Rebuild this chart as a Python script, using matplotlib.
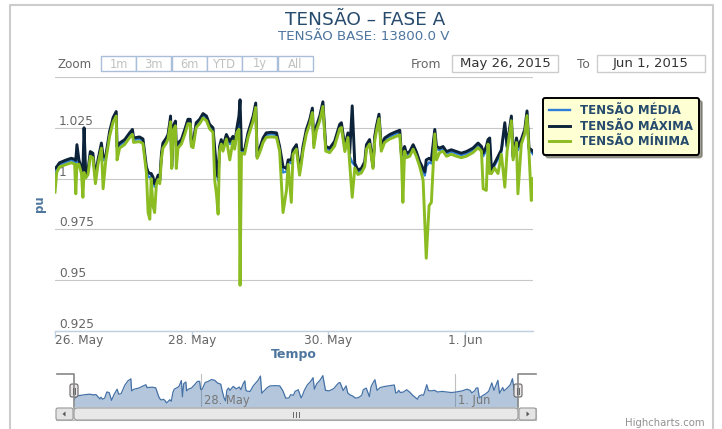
import numpy as np
import matplotlib
matplotlib.use("Agg")
import matplotlib.pyplot as plt
from matplotlib.patches import Rectangle, FancyBboxPatch, Polygon
import matplotlib.transforms as mtransforms

W, H = 722, 429

title = "TENSÃO – FASE A"
subtitle = "TENSÃO BASE: 13800.0 V"
series_names = ["TENSÃO MÉDIA", "TENSÃO MÁXIMA", "TENSÃO MÍNIMA"]
series_colors = ["#2f7ed8", "#0d233a", "#8bbc21"]
y_title = "pu"
x_title = "Tempo"

# hours since 26 May 2015 00:00
hours = [
    0.0, 0.6, 1.6, 4.0, 5.7, 6.9, 7.3, 7.7, 8.4, 9.3,
    9.8, 10.2, 10.8, 11.6, 12.4, 13.3, 14.2, 15.1, 16.3, 16.9,
    17.8, 19.2, 20.4, 21.5, 21.8, 22.7, 24.5, 26.2, 27.2, 27.6,
    29.7, 30.9, 32.1, 32.7, 33.3, 33.8, 34.4, 35.0, 35.6, 36.2,
    36.8, 37.4, 37.9, 39.1, 39.7, 40.3, 40.6, 41.0, 41.5, 42.3,
    42.6, 43.2, 44.4, 45.6, 46.7, 47.5, 47.9, 48.5, 49.6, 50.8,
    52.0, 53.2, 54.3, 55.5, 56.1, 56.7, 57.3, 57.8, 58.4, 59.0,
    60.2, 61.4, 62.5, 63.1, 63.9, 64.6, 65.0, 65.5, 66.6, 67.8,
    69.6, 70.5, 71.0, 71.9, 73.1, 74.2, 76.0, 77.8, 78.9, 80.1,
    81.3, 81.9, 83.0, 83.6, 84.8, 85.9, 86.5, 87.1, 88.3, 89.5,
    90.4, 90.9, 91.8, 93.0, 94.1, 95.1, 96.5, 98.2, 100.0, 100.6,
    101.8, 102.9, 103.5, 104.4, 105.3, 106.4, 107.6, 108.8, 109.4, 110.5,
    111.7, 112.3, 112.9, 113.8, 114.6, 115.8, 117.6, 119.3, 121.1, 121.7,
    122.2, 122.8, 123.4, 124.6, 125.8, 126.9, 128.1, 129.3, 129.9, 130.4,
    131.4, 132.2, 133.4, 134.0, 135.1, 136.3, 137.5, 139.2, 141.0, 142.7,
    144.5, 146.8, 148.6, 149.8, 150.4, 151.5, 152.1, 152.7, 153.3, 154.4,
    155.6, 156.8, 158.0, 158.8, 160.3, 160.9, 162.1, 162.6, 163.8, 165.0,
    165.8, 166.5, 167.3, 167.9,
]

v_max = [
    1.0050, 1.0058, 1.0078, 1.0092, 1.0100, 1.0095, 1.0090, 1.0167, 1.0092, 1.0050,
    1.0040, 1.0250, 1.0025, 1.0042, 1.0133, 1.0125, 1.0008, 1.0092, 1.0175, 1.0108,
    1.0108, 1.0233, 1.0300, 1.0330, 1.0158, 1.0175, 1.0192, 1.0225, 1.0242, 1.0200,
    1.0205, 1.0195, 1.0058, 1.0033, 1.0025, 1.0025, 1.0008, 0.9975, 0.9992, 1.0017,
    0.9992, 1.0125, 1.0175, 1.0200, 1.0217, 1.0275, 1.0308, 1.0058, 1.0258, 1.0283,
    1.0158, 1.0175, 1.0192, 1.0242, 1.0292, 1.0292, 1.0167, 1.0175, 1.0275, 1.0292,
    1.0320, 1.0308, 1.0267, 1.0250, 1.0150, 1.0058, 1.0008, 1.0158, 1.0192, 1.0158,
    1.0217, 1.0183, 1.0208, 1.0167, 1.0250, 1.0308, 1.0388, 1.0142, 1.0142, 1.0225,
    1.0308, 1.0372, 1.0108, 1.0150, 1.0200, 1.0225, 1.0228, 1.0225, 1.0158, 1.0058,
    1.0050, 1.0092, 1.0092, 1.0142, 1.0167, 1.0042, 1.0092, 1.0158, 1.0242, 1.0292,
    1.0347, 1.0175, 1.0258, 1.0308, 1.0378, 1.0158, 1.0150, 1.0183, 1.0267, 1.0275,
    1.0158, 1.0225, 1.0125, 1.0358, 1.0075, 1.0042, 1.0050, 1.0083, 1.0167, 1.0192,
    1.0058, 1.0208, 1.0258, 1.0317, 1.0158, 1.0200, 1.0217, 1.0228, 1.0238, 1.0117,
    1.0133, 1.0158, 1.0125, 1.0133, 1.0167, 1.0133, 1.0083, 1.0050, 1.0033, 1.0092,
    1.0100, 1.0092, 1.0242, 1.0158, 1.0150, 1.0158, 1.0133, 1.0142, 1.0133, 1.0125,
    1.0133, 1.0150, 1.0175, 1.0158, 1.0125, 1.0158, 1.0192, 1.0200, 1.0042, 1.0075,
    1.0108, 1.0142, 1.0275, 1.0158, 1.0308, 1.0108, 1.0200, 1.0158, 1.0192, 1.0242,
    1.0333, 1.0150, 1.0142, 1.0133,
]

v_mean = [
    1.0010, 1.0045, 1.0068, 1.0082, 1.0090, 1.0085, 1.0075, 1.0085, 1.0082, 1.0040,
    1.0020, 1.0045, 1.0015, 1.0032, 1.0123, 1.0115, 0.9998, 1.0082, 1.0165, 1.0090,
    1.0098, 1.0223, 1.0290, 1.0320, 1.0140, 1.0165, 1.0182, 1.0215, 1.0232, 1.0190,
    1.0195, 1.0185, 1.0048, 1.0010, 1.0005, 1.0015, 0.9995, 0.9960, 0.9982, 1.0007,
    0.9985, 1.0115, 1.0165, 1.0190, 1.0207, 1.0265, 1.0295, 1.0052, 1.0248, 1.0273,
    1.0140, 1.0165, 1.0182, 1.0232, 1.0282, 1.0282, 1.0160, 1.0165, 1.0265, 1.0282,
    1.0310, 1.0298, 1.0257, 1.0240, 1.0130, 1.0040, 0.9990, 1.0148, 1.0182, 1.0148,
    1.0207, 1.0170, 1.0198, 1.0157, 1.0240, 1.0290, 1.0150, 1.0135, 1.0132, 1.0215,
    1.0298, 1.0362, 1.0104, 1.0140, 1.0190, 1.0215, 1.0218, 1.0215, 1.0148, 1.0030,
    1.0035, 1.0082, 1.0075, 1.0132, 1.0157, 1.0035, 1.0082, 1.0148, 1.0232, 1.0282,
    1.0337, 1.0165, 1.0248, 1.0298, 1.0368, 1.0148, 1.0140, 1.0173, 1.0257, 1.0265,
    1.0145, 1.0215, 1.0110, 1.0080, 1.0065, 1.0032, 1.0040, 1.0073, 1.0157, 1.0182,
    1.0054, 1.0198, 1.0248, 1.0307, 1.0148, 1.0190, 1.0207, 1.0218, 1.0228, 1.0107,
    1.0115, 1.0148, 1.0115, 1.0123, 1.0157, 1.0123, 1.0073, 1.0035, 1.0015, 1.0060,
    1.0080, 1.0075, 1.0232, 1.0145, 1.0140, 1.0148, 1.0123, 1.0132, 1.0123, 1.0115,
    1.0123, 1.0140, 1.0165, 1.0148, 1.0110, 1.0140, 1.0182, 1.0185, 1.0035, 1.0065,
    1.0095, 1.0132, 1.0260, 1.0148, 1.0298, 1.0103, 1.0190, 1.0140, 1.0182, 1.0232,
    1.0323, 1.0140, 1.0130, 1.0120,
]

v_min = [
    0.9933, 1.0030, 1.0058, 1.0070, 1.0078, 1.0072, 0.9925, 1.0070, 1.0070, 1.0025,
    0.9908, 1.0030, 1.0003, 1.0020, 1.0110, 1.0103, 0.9975, 1.0070, 1.0150, 0.9950,
    1.0085, 1.0210, 1.0278, 1.0308, 1.0092, 1.0150, 1.0168, 1.0202, 1.0218, 1.0178,
    1.0182, 1.0172, 1.0030, 0.9833, 0.9800, 1.0000, 0.9867, 0.9833, 0.9970, 0.9995,
    0.9975, 1.0100, 1.0150, 1.0175, 1.0195, 1.0250, 1.0280, 1.0050, 1.0235, 1.0260,
    1.0050, 1.0150, 1.0170, 1.0218, 1.0270, 1.0270, 1.0158, 1.0152, 1.0252, 1.0270,
    1.0298, 1.0285, 1.0245, 1.0228, 0.9992, 0.9925, 0.9825, 1.0135, 1.0170, 1.0135,
    1.0195, 1.0092, 1.0185, 1.0145, 1.0228, 1.0242, 0.9475, 1.0125, 1.0120, 1.0203,
    1.0285, 1.0350, 1.0100, 1.0128, 1.0178, 1.0203, 1.0205, 1.0203, 1.0135, 0.9833,
    0.9942, 1.0070, 0.9883, 1.0120, 1.0145, 1.0017, 1.0070, 1.0135, 1.0220, 1.0270,
    1.0325, 1.0152, 1.0235, 1.0285, 1.0355, 1.0135, 1.0128, 1.0160, 1.0245, 1.0252,
    1.0133, 1.0202, 1.0075, 0.9908, 1.0052, 1.0020, 1.0028, 1.0060, 1.0145, 1.0170,
    1.0050, 1.0185, 1.0235, 1.0295, 1.0135, 1.0178, 1.0195, 1.0205, 1.0215, 1.0095,
    0.9883, 1.0135, 1.0103, 1.0110, 1.0145, 1.0110, 1.0060, 0.9992, 0.9783, 0.9608,
    0.9867, 0.9883, 1.0220, 1.0092, 1.0128, 1.0135, 1.0110, 1.0120, 1.0110, 1.0103,
    1.0110, 1.0128, 1.0152, 1.0135, 0.9950, 0.9942, 1.0170, 1.0025, 1.0025, 1.0052,
    1.0025, 1.0120, 0.9958, 1.0135, 1.0285, 1.0092, 1.0178, 0.9925, 1.0170, 1.0220,
    1.0310, 1.0128, 0.9892, 1.0000,
]

y_ticks = [0.925, 0.95, 0.975, 1.0, 1.025, 1.05]
y_tick_labels = ["0.925", "0.95", "0.975", "1", "1.025", ""]
x_tick_dates = ["2015-05-26", "2015-05-28", "2015-05-30", "2015-06-01"]
x_tick_labels = ["26. May", "28. May", "30. May", "1. Jun"]
nav_tick_dates = ["2015-05-28", "2015-06-01"]
nav_tick_labels = ["28. May", "1. Jun"]
range_buttons = ["1m", "3m", "6m", "YTD", "1y", "All"]
date_from = "May 26, 2015"
date_to = "Jun 1, 2015"

assert len(hours) == len(v_max) == len(v_mean) == len(v_min)

plt.rcParams["font.family"] = ["DejaVu Sans"]

fig = plt.figure(figsize=(W / 100, H / 100), dpi=100)
fig.patch.set_facecolor("white")


def px_axes(x0, y0, x1, y1, **kw):
    return fig.add_axes([x0 / W, 1 - y1 / H, (x1 - x0) / W, (y1 - y0) / H], **kw)


t0 = np.datetime64("2015-05-26T00:00")
times = t0 + np.round(np.array(hours) * 60).astype(int).astype("timedelta64[m]")

# ---------------- main plot ----------------
ax = px_axes(55, 77, 533, 331)
ax.plot(times, v_mean, color=series_colors[0], lw=1.7, zorder=3, label=series_names[0])
ax.plot(times, v_max, color=series_colors[1], lw=2.1, zorder=4, label=series_names[1])
ax.plot(times, v_min, color=series_colors[2], lw=2.1, zorder=5, label=series_names[2])
ax.set_xlim(times[0], times[-1])
ax.set_ylim(0.925, 1.05)
ax.set_yticks(y_ticks)
ax.set_yticklabels(y_tick_labels)
ax.grid(axis="y", color="#c8c8c8", lw=0.8)
ax.set_axisbelow(True)
for s in ["top", "right", "left"]:
    ax.spines[s].set_visible(False)
ax.spines["bottom"].set_color("#c0d0e0")
ax.spines["bottom"].set_linewidth(1.0)
ax.tick_params(axis="y", length=0, pad=-3, labelsize=8.8, labelcolor="#666666")
for lab in ax.get_yticklabels():
    lab.set_horizontalalignment("left")
    lab.set_verticalalignment("bottom")
xt = np.array(x_tick_dates, dtype="datetime64[m]")
ax.set_xticks(xt)
ax.set_xticklabels(x_tick_labels)
ax.tick_params(axis="x", length=5, width=1, color="#c0d0e0", labelsize=8.7,
               labelcolor="#666666", pad=-2.5)
ax.get_xticklabels()[0].set_horizontalalignment("left")
ax.set_ylabel(y_title, color="#4d759e", fontsize=8.5, fontweight="bold")
ax.yaxis.set_label_coords(-0.018, 0.5)
ax.set_xlabel(x_title, color="#4d759e", fontsize=9, fontweight="bold")
ax.xaxis.set_label_coords(0.5, -0.068)

leg = ax.legend(loc="upper left", bbox_to_anchor=(543 / W, 1 - 98 / H),
                bbox_transform=fig.transFigure,
                prop={"size": 8.5, "weight": "bold"}, labelcolor="#274b6d",
                facecolor="#ffffd4", edgecolor="#000000", framealpha=1,
                fancybox=True, shadow=True, handlelength=1.7, handletextpad=0.85,
                borderpad=0.55, labelspacing=0.2, borderaxespad=0)
leg.get_frame().set_linewidth(1.4)

# ---------------- navigator ----------------
nav = px_axes(74, 374, 518, 407)
lo, hi = min(v_mean), max(v_mean)
span = hi - lo
base = lo - span * 0.15
nav.set_ylim(base, hi + span * 0.06)
nav.set_xlim(times[0], times[-1])
for d in nav_tick_dates:
    nav.axvline(np.datetime64(d), color="#c0c0c0", lw=0.8, zorder=1)
nav.fill_between(times, v_mean, base, color="#4572a7", alpha=0.4, lw=0, zorder=2)
nav.plot(times, v_mean, color="#4572a7", lw=0.9, zorder=3)
offs = mtransforms.offset_copy(nav.get_xaxis_transform(), fig=fig, x=3, y=0, units="dots")
for d, lab in zip(nav_tick_dates, nav_tick_labels):
    nav.text(np.datetime64(d), 0.0, lab, transform=offs, ha="left", va="bottom",
             fontsize=8.3, color="#777777", zorder=4)
nav.axis("off")

# ---------------- overlay decorations ----------------
ov = fig.add_axes([0, 0, 1, 1], zorder=10)
ov.set_xlim(0, W)
ov.set_ylim(H, 0)
ov.axis("off")
ov.patch.set_alpha(0)

ov.plot([10, 10, 713, 713], [429, 5, 5, 429], color="#cccccc", lw=1.5)

ov.text(365, 20, title, ha="center", va="center", fontsize=13.3, color="#274b6d")
ov.text(364, 36, subtitle, ha="center", va="center", fontsize=9.6, color="#4d759e")

ov.text(57, 64, "Zoom", ha="left", va="center", fontsize=8.6, color="#666666")
for i, b in enumerate(range_buttons):
    bx = 101 + i * 35.3
    ov.add_patch(Rectangle((bx, 56), 35, 15, fc="white", ec="#a9bfd9", lw=1))
    ov.text(bx + 17.5, 64, b, ha="center", va="center", fontsize=8.3, color="#c0c0c0")

ov.text(441, 64, "From", ha="right", va="center", fontsize=8.8, color="#666666")
ov.add_patch(Rectangle((452, 55), 106, 17, fc="white", ec="#cccccc", lw=1))
ov.text(505, 64, date_from, ha="center", va="center", fontsize=9.5, color="#333333")
ov.text(590, 64, "To", ha="right", va="center", fontsize=8.8, color="#666666")
ov.add_patch(Rectangle((597, 55), 108, 17, fc="white", ec="#cccccc", lw=1))
ov.text(651, 64, date_to, ha="center", va="center", fontsize=9.5, color="#333333")

# navigator outline
ov.plot([57, 74, 74], [374, 374, 407], color="#888888", lw=1.2)
ov.plot([518, 518, 536], [407, 374, 374], color="#888888", lw=1.2)
for hx in (74, 518):
    ov.add_patch(FancyBboxPatch((hx - 4, 384), 8, 13, boxstyle="round,pad=0,rounding_size=2",
                                fc="#ebe7e8", ec="#666666", lw=0.8))
    ov.plot([hx - 1.2, hx - 1.2], [387.5, 393.5], color="#666666", lw=0.7)
    ov.plot([hx + 1.2, hx + 1.2], [387.5, 393.5], color="#666666", lw=0.7)

# scrollbar
ov.add_patch(Rectangle((56, 408), 480, 12, fc="#eeeeee", ec="#bbbbbb", lw=0.8))
ov.add_patch(FancyBboxPatch((56, 408), 17, 12, boxstyle="round,pad=0,rounding_size=2",
                            fc="#e4e4e4", ec="#999999", lw=0.8))
ov.add_patch(FancyBboxPatch((519, 408), 17, 12, boxstyle="round,pad=0,rounding_size=2",
                            fc="#e4e4e4", ec="#999999", lw=0.8))
ov.add_patch(Polygon([(62.5, 414), (65.5, 411.5), (65.5, 416.5)], closed=True, fc="#555555", ec="none"))
ov.add_patch(Polygon([(529.5, 414), (526.5, 411.5), (526.5, 416.5)], closed=True, fc="#555555", ec="none"))
ov.add_patch(FancyBboxPatch((74, 408), 444, 12, boxstyle="round,pad=0,rounding_size=3",
                            fc="#e8e8e8", ec="#999999", lw=0.8))
for gx in (293, 296, 299):
    ov.plot([gx, gx], [411.5, 416.5], color="#666666", lw=0.7)

ov.text(705, 423, "Highcharts.com", ha="right", va="center", fontsize=7.3, color="#909090")

fig.savefig("out.png", dpi=100)
